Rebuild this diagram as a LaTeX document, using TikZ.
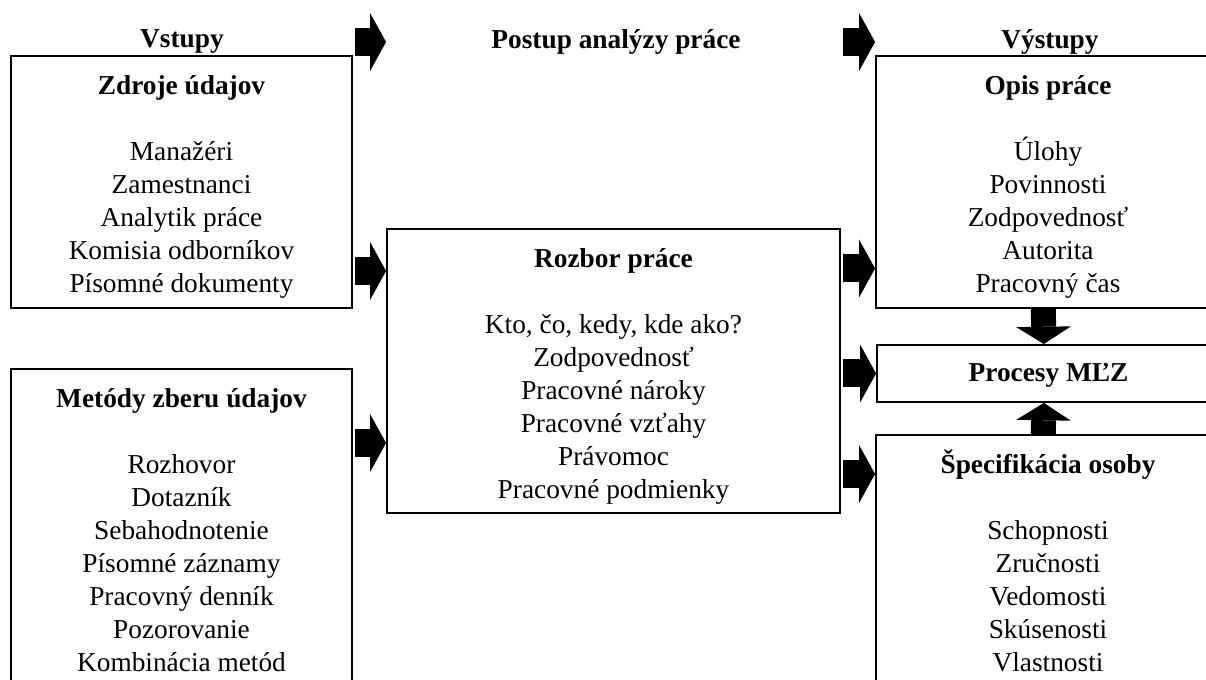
\documentclass[tikz,border=0pt]{standalone}
\usepackage{fontspec}
\setmainfont{Liberation Serif}
\usetikzlibrary{arrows.meta, positioning}
\newcommand\boxtitle[1]{\rule{0pt}{22pt}\textbf{#1}}
\tikzset{
  box/.style={rectangle, draw=black, line width=1.4pt, align=center, inner sep=0pt,
    font=\fontsize{20.5}{24.75}\selectfont},
  lowtext/.style={execute at begin node={\rule{0pt}{#1}}},
  head/.style={inner sep=0pt, font=\fontsize{20.5}{24.75}\selectfont\bfseries},
  blk/.style={-{Triangle[width=43.5pt, length=12pt, line width=0pt]}, line width=21pt, shorten <=1.5pt},
  blkv/.style={-{Triangle[width=41pt, length=13pt, line width=0pt]}, line width=18.75pt},
}
\begin{document}
\begin{tikzpicture}[x=0.75pt, y=-0.75pt]
  \clip (0,0) rectangle (1206,680);
  % hlavicky
  \node[head] (vstupy) at (182,42) {Vstupy};
  \node[head] (postup) at (616,42) {Postup analýzy práce};
  \node[head] (vystupy) at (1050,42) {Výstupy};
  % vstupy
  \node[box, minimum width=255.75pt, minimum height=189pt] (zdroje) at (181.5,182)
    {\boxtitle{Zdroje údajov}\\[24.75pt] Manažéri\\ Zamestnanci\\ Analytik práce\\ Komisia odborníkov\\ Písomné dokumenty};
  \node[box, minimum width=255.75pt, minimum height=241.5pt] (metody) at (181.5,530)
    {\textbf{Metódy zberu údajov}\\[24.75pt] Rozhovor\\ Dotazník\\ Sebahodnotenie\\ Písomné záznamy\\ Pracovný denník\\ Pozorovanie\\ Kombinácia metód};
  % rozbor
  \node[box, minimum width=339.75pt, minimum height=213pt] (rozbor) at (613.5,371)
    {\boxtitle{Rozbor práce}\\[24.75pt] Kto, čo, kedy, kde ako?\\ Zodpovednosť\\ Pracovné nároky\\ Pracovné vzťahy\\ Právomoc\\ Pracovné podmienky};
  % vystupy
  \node[box, minimum width=258pt, minimum height=189pt] (opis) at (1048,182)
    {\boxtitle{Opis práce}\\[24.75pt] Úlohy\\ Povinnosti\\ Zodpovednosť\\ Autorita\\ Pracovný čas};
  \node[box, lowtext=16.5pt, minimum width=257.25pt, minimum height=42.75pt] (procesy) at (1048.5,373.5)
    {\textbf{Procesy MĽZ}};
  \node[box, minimum width=258pt, minimum height=189pt] (spec) at (1048,561)
    {\textbf{Špecifikácia osoby}\\[24.75pt] Schopnosti\\ Zručnosti\\ Vedomosti\\ Skúsenosti\\ Vlastnosti};
  % urovne sipok
  \coordinate (inA) at (0,271);
  \coordinate (inB) at (0,443);
  \coordinate (outA) at (0,268.5);
  \coordinate (outC) at (0,474);
  % sipky
  \draw[blk] (vstupy -| zdroje.east) -- (vstupy -| rozbor.west);
  \draw[blk] (postup -| rozbor.east) -- (postup -| opis.west);
  \draw[blk] (inA -| zdroje.east) -- (inA -| rozbor.west);
  \draw[blk] (inB -| metody.east) -- (inB -| rozbor.west);
  \draw[blk] (outA -| rozbor.east) -- (outA -| opis.west);
  \draw[blk] (rozbor.east |- procesy) -- (procesy.west);
  \draw[blk] (outC -| rozbor.east) -- (outC -| spec.west);
  \draw[blkv] ([xshift=-3.5pt]opis.south) -- ([xshift=-3.5pt]procesy.north);
  \draw[blkv] ([xshift=-3.5pt]spec.north) -- ([xshift=-3.5pt]procesy.south);
\end{tikzpicture}
\end{document}
